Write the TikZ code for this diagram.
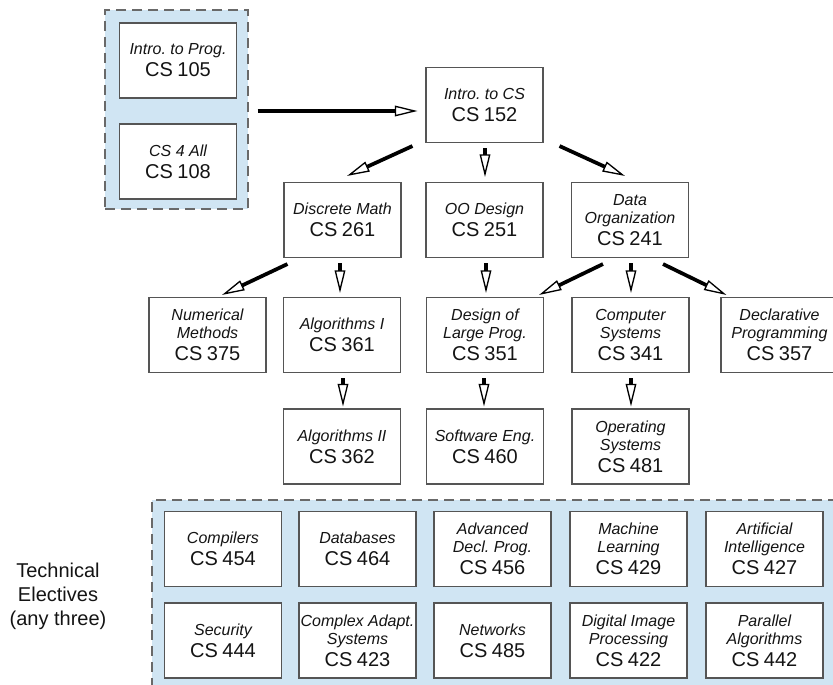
\documentclass[tikz,border=0pt]{standalone}
\usepackage{fontspec}
\setmainfont{Liberation Sans}
\usetikzlibrary{arrows.meta,calc}
\frenchspacing
\definecolor{grpfill}{RGB}{208,229,243}
\definecolor{grpline}{RGB}{105,105,105}
\definecolor{boxline}{RGB}{85,85,85}
\definecolor{txt}{RGB}{20,20,20}
\newcommand\crs[2]{{\fontsize{12}{13.5}\selectfont\itshape #1\par}{\fontsize{15}{16.5}\selectfont CS #2\par}}
\tikzset{
  crsbox/.style={draw=boxline, line width=0.8pt, fill=white, minimum width=87.75pt, minimum height=56.25pt, inner sep=0pt, text width=87pt, align=center, text=txt},
  grpbox/.style={draw=grpline, fill=grpfill, dash pattern=on 7.5pt off 4.5pt, line width=1.1pt, inner sep=0pt},
  arr/.style={line width=2.8pt, -{Triangle[open, length=17pt, width=8pt, line width=1pt]}},
}
\begin{document}
\begin{tikzpicture}[x=0.75pt,y=-0.75pt]
\useasboundingbox (0,0) rectangle (833,685);
% groups
\node[grpbox, minimum width=107.25pt, minimum height=149.25pt] (g1) at (176.5,109.5) {};
\node[grpbox, minimum width=516pt, minimum height=142.5pt] (g2) at (496,595) {};
% intro
\node[crsbox] (cs105) at (178,60.5) {\crs{Intro. to Prog.}{105}};
\node[crsbox] (cs108) at (178,161.5) {\crs{CS 4 All}{108}};
\node[crsbox] (cs152) at (484.5,105) {\crs{Intro. to CS}{152}};
% row 2
\node[crsbox] (cs261) at (342.5,220) {\crs{Discrete Math}{261}};
\node[crsbox] (cs251) at (484.5,220) {\crs{OO Design}{251}};
\node[crsbox] (cs241) at (630,220) {\crs{Data\\Organization}{241}};
% row 3
\node[crsbox] (cs375) at (207.5,335) {\crs{Numerical\\Methods}{375}};
\node[crsbox] (cs361) at (342,335) {\crs{Algorithms I}{361}};
\node[crsbox] (cs351) at (485,335) {\crs{Design of\\Large Prog.}{351}};
\node[crsbox] (cs341) at (630.5,335) {\crs{Computer\\Systems}{341}};
\node[crsbox] (cs357) at (779.5,335) {\crs{Declarative\\Programming}{357}};
% row 4
\node[crsbox] (cs362) at (342,446.5) {\crs{Algorithms II}{362}};
\node[crsbox] (cs460) at (485,446.5) {\crs{Software Eng.}{460}};
\node[crsbox] (cs481) at (630.5,446.5) {\crs{Operating\\Systems}{481}};
% electives
\node[crsbox] (e454) at (223,549) {\crs{Compilers}{454}};
\node[crsbox] (e464) at (357.5,549) {\crs{Databases}{464}};
\node[crsbox] (e456) at (492.5,549) {\crs{Advanced\\Decl. Prog.}{456}};
\node[crsbox] (e429) at (628.5,549) {\crs{Machine\\Learning}{429}};
\node[crsbox] (e427) at (764.5,549) {\crs{Artificial\\Intelligence}{427}};
\node[crsbox] (e444) at (223,640.5) {\crs{Security}{444}};
\node[crsbox] (e423) at (357.5,640.5) {\crs{Complex Adapt.\\Systems}{423}};
\node[crsbox] (e485) at (492.5,640.5) {\crs{Networks}{485}};
\node[crsbox] (e422) at (628.5,640.5) {\crs{Digital Image\\Processing}{422}};
\node[crsbox] (e442) at (764.5,640.5) {\crs{Parallel\\Algorithms}{442}};
\node[align=center, text=txt, font=\fontsize{15}{18}\selectfont] (te) at (58,596) {Technical\\Electives\\(any three)};
% arrows
\draw[arr] ($(g1.east)+(9,1.5)$) -- ($(cs152.west)+(-8,6)$);
\draw[arr] ($(cs152.south west)+(-13,3)$) -- ($(cs261.north)+(4.5,-6)$);
\draw[arr] ($(cs152.south)+(0.5,5)$) -- ($(cs251.north)+(0.5,-5)$);
\draw[arr] ($(cs152.south east)+(16,3)$) -- ($(cs241.north)+(-5,-6)$);
\draw[arr] ($(cs261.south west)+(4,6)$) -- ($(cs375.north)+(14.5,-2)$);
\draw[arr] ($(cs261.south)+(-2.5,5)$) -- ($(cs361.north)+(-2,-4)$);
\draw[arr] ($(cs251.south)+(1.5,5)$) -- ($(cs351.north)+(1,-4)$);
\draw[arr] ($(cs241.south)+(-27,6)$) -- ($(cs351.north east)+(-5,-2)$);
\draw[arr] ($(cs241.south)+(1,5)$) -- ($(cs341.north)+(0.5,-4)$);
\draw[arr] ($(cs241.south)+(33,6)$) -- ($(cs357.north west)+(6,-2)$);
\draw[arr] ($(cs361.south)+(1,5)$) -- ($(cs362.north)+(1,-2)$);
\draw[arr] ($(cs351.south)+(-1,5)$) -- ($(cs460.north)+(-1,-2)$);
\draw[arr] ($(cs341.south)+(0.5,5)$) -- ($(cs481.north)+(0.5,-2)$);
\end{tikzpicture}
\end{document}
